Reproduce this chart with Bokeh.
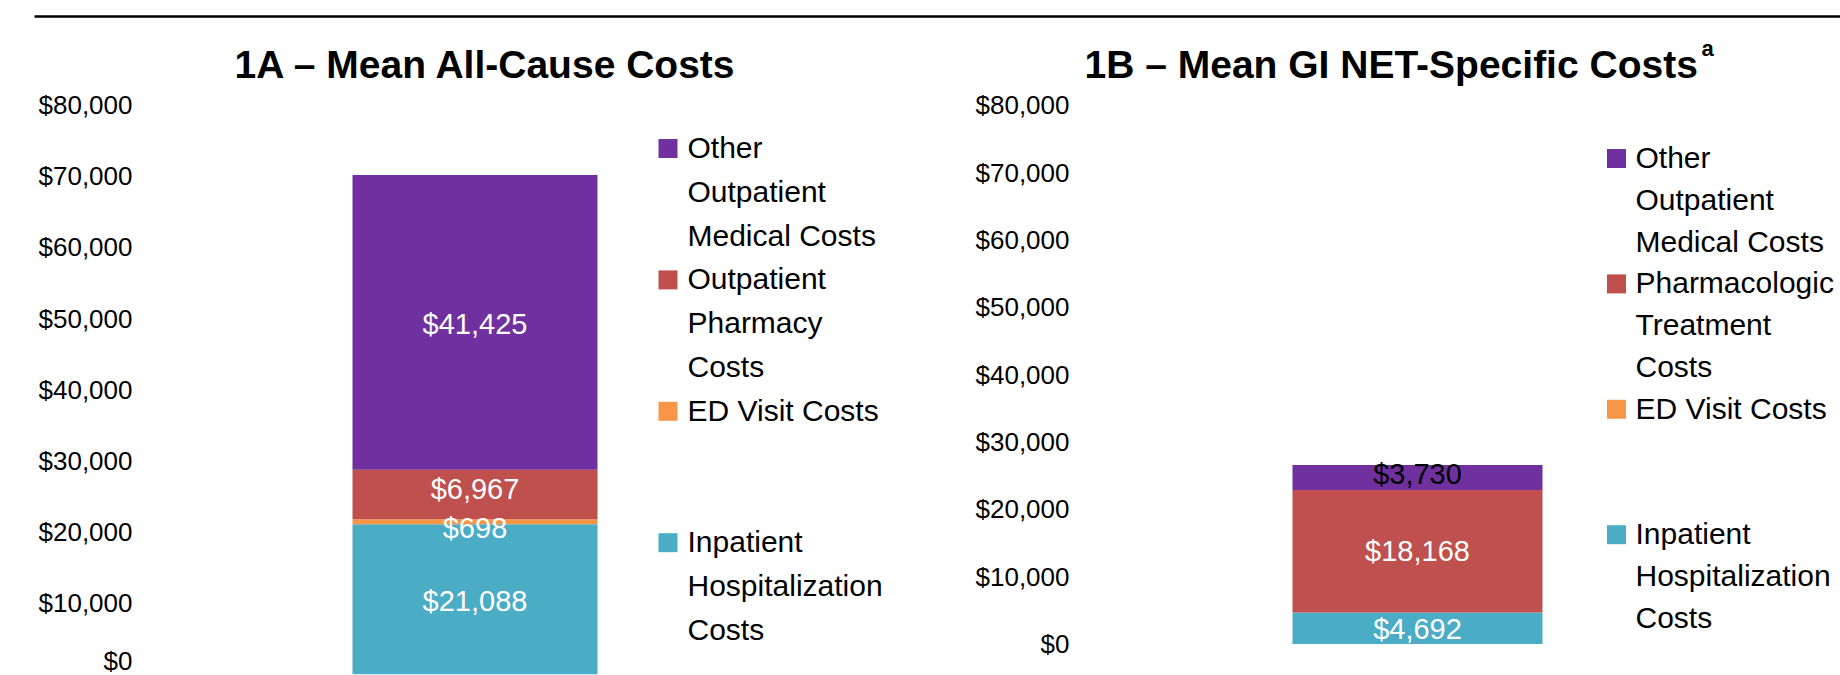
import numpy as np
from bokeh.plotting import figure
from bokeh.models import Range1d, FixedTicker, NumeralTickFormatter
from bokeh.layouts import column, row
from bokeh.embed import file_html
from bokeh.resources import INLINE
from bokeh.core.properties import value

# ---------------- data ----------------
title_a = "1A \u2013 Mean All-Cause Costs"
title_b = "1B \u2013 Mean GI NET-Specific Costs"
title_b_sup = "a"

# stacking order, bottom to top
components_a = ["Inpatient Hospitalization Costs", "ED Visit Costs",
                "Outpatient Pharmacy Costs", "Other Outpatient Medical Costs"]
costs_a = [21088, 698, 6967, 41425]

components_b = ["Inpatient Hospitalization Costs", "ED Visit Costs",
                "Pharmacologic Treatment Costs", "Other Outpatient Medical Costs"]
costs_b = [4692, 0, 18168, 3730]

# legend texts (wrapped as in the picture), same order as components
legend_a = ["Inpatient\nHospitalization\nCosts", "ED Visit Costs",
            "Outpatient\nPharmacy\nCosts", "Other\nOutpatient\nMedical Costs"]
legend_b = ["Inpatient\nHospitalization\nCosts", "ED Visit Costs",
            "Pharmacologic\nTreatment\nCosts", "Other\nOutpatient\nMedical Costs"]

y_ticks = [0, 10000, 20000, 30000, 40000, 50000, 60000, 70000, 80000]

# ---------------- styles / layout ----------------
colors = ["#4BACC6", "#F79646", "#C0504D", "#7030A0"]
FONT = "Liberation Sans"
W, H_TOP, H = 1840, 20, 655


def fmt(v):
    return "${:,.0f}".format(v)


def make_panel(x0, x1, frame_left, yr, bar_x, bar_w, costs, label_colors,
               label_dy, show_label, legend, leg_sq_x, leg_txt_x, leg_top,
               leg_step, leg_rows):
    p = figure(width=x1 - x0, height=H, output_backend="svg",
               toolbar_location=None, x_range=Range1d(x0 + frame_left, x1),
               y_range=Range1d(*yr), x_axis_location=None,
               y_axis_location="left", min_border_left=frame_left,
               min_border_right=0, min_border_top=0, min_border_bottom=0)
    p.extra_y_ranges = {"px": Range1d(H_TOP + H, H_TOP)}
    p.outline_line_color = None
    p.grid.visible = False
    p.background_fill_color = "white"
    p.border_fill_color = "white"
    ax = p.yaxis[0]
    ax.ticker = FixedTicker(ticks=y_ticks)
    ax.formatter = NumeralTickFormatter(format="$0,0")
    ax.axis_line_color = None
    ax.major_tick_line_color = None
    ax.minor_tick_line_color = None
    ax.major_tick_out = 0
    ax.major_label_standoff = 8
    ax.major_label_text_font = FONT
    ax.major_label_text_font_size = "26px"
    ax.major_label_text_color = "black"

    vals = np.array(costs, dtype=float)
    tops = np.cumsum(vals)
    bottoms = tops - vals
    for i in range(len(vals)):
        if vals[i] <= 0:
            continue
        p.vbar(x=[bar_x], width=bar_w, bottom=[bottoms[i]], top=[tops[i]],
               fill_color=colors[i], line_color=None)
    for i in range(len(vals)):
        if not show_label[i]:
            continue
        p.text(x=[bar_x], y=[(bottoms[i] + tops[i]) / 2], text=[fmt(vals[i])],
               text_align="center", text_baseline="middle",
               text_font=value(FONT), text_font_size="29px",
               text_color=label_colors[i], y_offset=label_dy[i])

    # legend (top to bottom = reverse stacking order)
    for k, i in enumerate(reversed(range(len(legend)))):
        r = leg_rows[k]
        y = leg_top + r * leg_step
        p.scatter(x=[leg_sq_x], y=[y + 1], marker="square", size=19,
                  fill_color=colors[i], line_color=None, y_range_name="px")
        lines = legend[i].split("\n")
        p.text(x=[leg_txt_x] * len(lines),
               y=[leg_top + (r + j) * leg_step for j in range(len(lines))],
               text=lines, text_align="left", text_baseline="middle",
               text_font=value(FONT), text_font_size="30px",
               text_color="black", y_range_name="px")
    return p


pa = make_panel(0, 920, 140, (-183, 91902), 474.5, 245, costs_a,
                ["white"] * 4, [2, 6, -5, 2], [True, True, True, True],
                legend_a, 667.5, 687, 147, 43.8, [0, 3, 6, 9])
pa.text(x=[485.5], y=[64], text=[title_a], text_align="center",
        text_baseline="alphabetic", text_font=value(FONT),
        text_font_style="bold", text_font_size="39px", text_color="black",
        y_range_name="px")

pb = make_panel(920, 1840, 157, (-4662, 92577), 1417, 250, costs_b,
                ["white", "white", "white", "black"], [1, 0, 0, -4],
                [True, False, True, True],
                legend_b, 1616, 1635, 157, 41.8, [0, 3, 6, 9])
pb.text(x=[1084], y=[64], text=[title_b], text_align="left",
        text_baseline="alphabetic", text_font=value(FONT),
        text_font_style="bold", text_font_size="39px", text_color="black",
        y_range_name="px")
pb.text(x=[1701], y=[48], text=[title_b_sup], text_align="left",
        text_baseline="alphabetic", text_font=value(FONT),
        text_font_style="bold", text_font_size="22px", text_color="black",
        y_range_name="px")

top = figure(width=W, height=H_TOP, output_backend="svg", toolbar_location=None,
             x_range=Range1d(0, W), y_range=Range1d(H_TOP, 0),
             x_axis_location=None, y_axis_location=None, min_border=0)
top.outline_line_color = None
top.grid.visible = False
top.segment(x0=[34], y0=[16], x1=[W], y1=[16], line_color="black", line_width=2.5)

layout = column(top, row(pa, pb, spacing=0), spacing=0)
open("out.html", "w").write(file_html(layout, INLINE))
